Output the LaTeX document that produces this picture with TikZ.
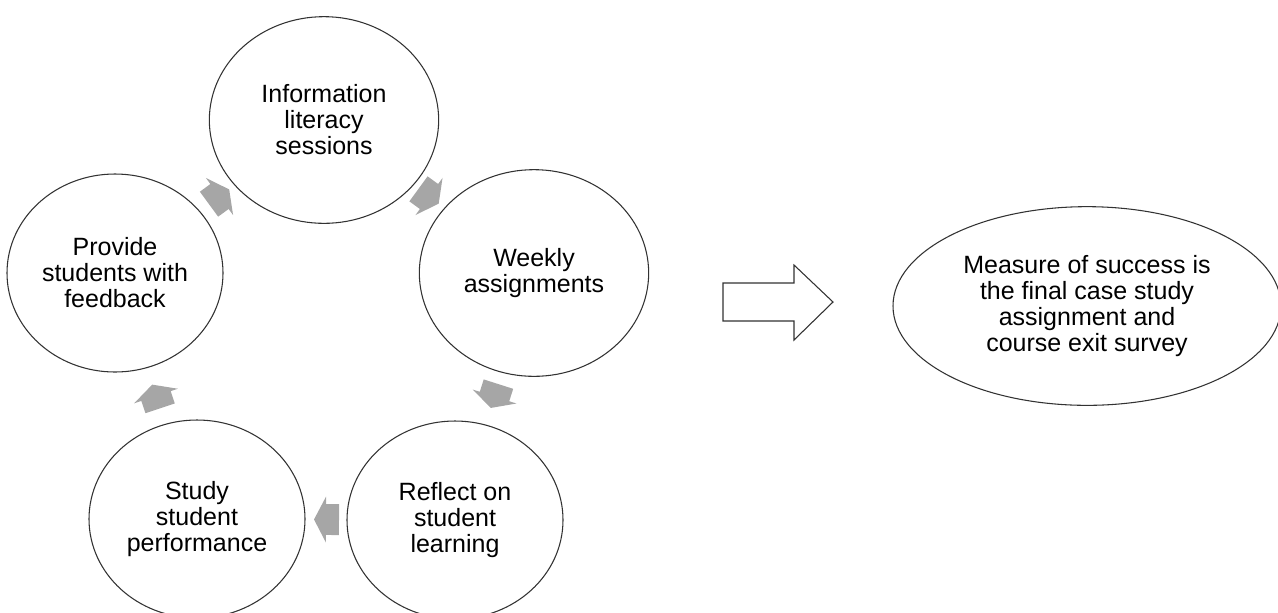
\documentclass[tikz,border=0pt]{standalone}
\usepackage{fontspec}
\setmainfont{Liberation Sans}
\usetikzlibrary{shapes.geometric,calc}
\definecolor{arrowgray}{RGB}{166,166,166}
\definecolor{linegray}{RGB}{50,50,50}
\tikzset{
  stage/.style={ellipse, draw=linegray, line width=0.8pt, minimum width=162pt,
    minimum height=148.5pt, inner sep=0pt, align=center,
    font=\fontsize{18.75}{19.5}\selectfont},
  bigstage/.style={stage, minimum width=172pt, minimum height=155pt},
  goal/.style={ellipse, draw=linegray, line width=0.8pt, minimum width=291pt,
    minimum height=149pt, inner sep=0pt, align=center,
    font=\fontsize{18.75}{19.5}\selectfont},
  bigarrow/.style={draw=linegray, line width=0.8pt, fill=white, line join=miter}
}
\newcommand\cyclearrow[2]{%
  \fill[arrowgray] let \p1=($(#2.center)-(#1.center)$), \n1={atan2(\y1,\x1)},
     \p2=($(#1.center)!0.5!(#2.center)$) in
   ($(\p2)+(\n1:-9.75pt)+(\n1+90:11.6pt)$) --
   ($(\p2)+(\n1+90:11.6pt)$) --
   ($(\p2)+(\n1+90:17.25pt)$) --
   ($(\p2)+(\n1:9pt)$) --
   ($(\p2)+(\n1-90:17.25pt)$) --
   ($(\p2)+(\n1-90:11.6pt)$) --
   ($(\p2)+(\n1:-9.75pt)+(\n1-90:11.6pt)$) -- cycle;}
\begin{document}
\begin{tikzpicture}[x=0.75pt,y=-0.75pt]
\useasboundingbox (0,0) rectangle (1278,612);
\node[bigstage] (info) at (324,120) {Information\\literacy\\sessions};
\node[bigstage] (weekly) at (534,273) {Weekly\\assignments};
\node[stage] (reflect) at (455,520) {Reflect on\\student\\learning};
\node[stage] (study) at (197,519) {Study\\student\\performance};
\node[stage] (provide) at (115,273) {Provide\\students with\\feedback};
\cyclearrow{info}{weekly}
\cyclearrow{weekly}{reflect}
\cyclearrow{reflect}{study}
\cyclearrow{study}{provide}
\cyclearrow{provide}{info}
\draw[bigarrow] (723,283) -- (794,283) -- (794,265) -- (833,302) -- (794,340) -- (794,321) -- (723,321) -- cycle;
\node[goal] (measure) at (1087,306) {Measure of success is\\the final case study\\assignment and\\course exit survey};
\end{tikzpicture}
\end{document}
